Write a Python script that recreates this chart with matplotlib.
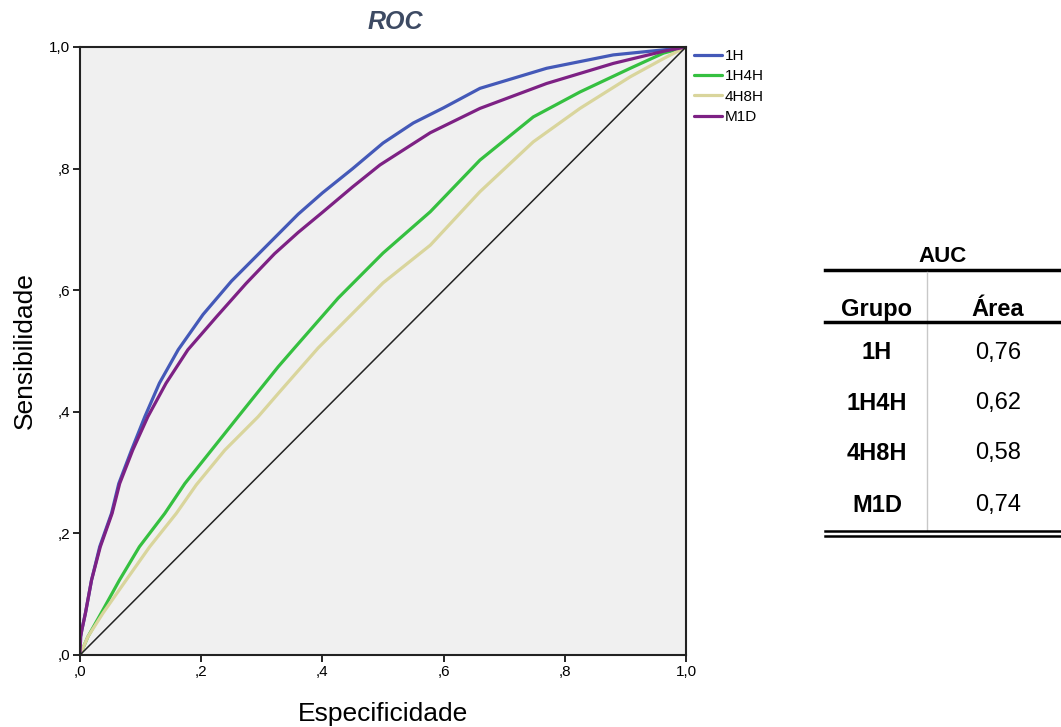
import matplotlib.pyplot as plt
from matplotlib.lines import Line2D

plt.rcParams['font.family'] = ['Liberation Sans', 'DejaVu Sans']

# Curvas ROC (1 - especificidade, sensibilidade)
fpr_1h = [0, 0.001, 0.003, 0.009, 0.019, 0.0325, 0.052, 0.064, 0.085, 0.107, 0.131,
          0.162, 0.203, 0.25, 0.297, 0.327, 0.36, 0.40, 0.45, 0.50, 0.55, 0.60, 0.66,
          0.77, 0.88, 0.99, 1.0]
tpr_1h = [0, 0.03, 0.041, 0.069, 0.123, 0.178, 0.233, 0.282, 0.337, 0.392, 0.447,
          0.502, 0.56, 0.615, 0.662, 0.692, 0.725, 0.76, 0.80, 0.842, 0.875, 0.90, 0.932,
          0.965, 0.987, 0.998, 1.0]

fpr_m1d = [0, 0.001, 0.003, 0.009, 0.019, 0.0335, 0.053, 0.0655, 0.087, 0.112, 0.142,
           0.178, 0.225, 0.274, 0.321, 0.36, 0.40, 0.45, 0.495, 0.578, 0.66, 0.77,
           0.88, 0.963, 1.0]
tpr_m1d = [0, 0.03, 0.041, 0.069, 0.123, 0.178, 0.233, 0.282, 0.337, 0.392, 0.447,
           0.502, 0.556, 0.611, 0.66, 0.695, 0.728, 0.77, 0.806, 0.859, 0.899, 0.94,
           0.973, 0.993, 1.0]

fpr_1h4h = [0, 0.013, 0.035, 0.065, 0.098, 0.14, 0.173, 0.217, 0.261, 0.327, 0.354,
            0.426, 0.50, 0.578, 0.66, 0.748, 0.825, 0.908, 0.963, 1.0]
tpr_1h4h = [0, 0.03, 0.069, 0.123, 0.178, 0.233, 0.282, 0.337, 0.392, 0.474, 0.505,
            0.587, 0.661, 0.729, 0.814, 0.885, 0.926, 0.965, 0.99, 1.0]

fpr_4h8h = [0, 0.013, 0.038, 0.076, 0.115, 0.159, 0.192, 0.239, 0.294, 0.327, 0.393,
            0.442, 0.50, 0.578, 0.66, 0.748, 0.825, 0.908, 0.963, 1.0]
tpr_4h8h = [0, 0.03, 0.069, 0.123, 0.178, 0.233, 0.28, 0.337, 0.392, 0.43, 0.505,
            0.554, 0.612, 0.674, 0.762, 0.844, 0.899, 0.951, 0.981, 1.0]

# Tabela AUC
grupos = ['1H', '1H4H', '4H8H', 'M1D']
areas = ['0,76', '0,62', '0,58', '0,74']

ticks = [0, 0.2, 0.4, 0.6, 0.8, 1.0]
tick_labels = [',0', ',2', ',4', ',6', ',8', '1,0']

fig = plt.figure(figsize=(10.61, 7.27), dpi=100)
ax = fig.add_axes([80 / 1061, 72 / 727, 606 / 1061, 608 / 727])
ax.set_facecolor('#f0f0f0')

kw = dict(lw=2.3, solid_joinstyle='round', solid_capstyle='round')
ax.plot(fpr_1h, tpr_1h, color='#4459b8', label='1H', **kw)
ax.plot(fpr_1h4h, tpr_1h4h, color='#35c040', label='1H4H', **kw)
ax.plot(fpr_4h8h, tpr_4h8h, color='#d9d59c', label='4H8H', **kw)
ax.plot(fpr_m1d, tpr_m1d, color='#7d2184', label='M1D', **kw)
ax.plot([0, 1], [0, 1], color='#222222', lw=1.1)

ax.set_xlim(0, 1)
ax.set_ylim(0, 1)
ax.set_xticks(ticks)
ax.set_xticklabels(tick_labels)
ax.set_yticks(ticks)
ax.set_yticklabels(tick_labels)
ax.tick_params(direction='out', length=5, width=1.2, labelsize=11, pad=2)
for s in ax.spines.values():
    s.set_linewidth(1.5)
    s.set_color('#222222')

ax.set_xlabel('Especificidade', fontsize=19, labelpad=17)
ax.set_ylabel('Sensibilidade', fontsize=19, labelpad=9)

fig.text(395 / 1061, 1 - 22 / 727, 'ROC', fontsize=18, fontweight='bold',
         fontstyle='italic', color='#3d4a63', ha='center', va='center')

ax.legend(loc='upper left', bbox_to_anchor=(1.0, 1.009), frameon=False,
          fontsize=11, handlelength=1.85, handletextpad=0.2,
          labelspacing=0.41, borderaxespad=0.1)

# Tabela à direita
def fx(px):
    return px / 1061

def fy(py):
    return 1 - py / 727

fig.text(fx(943), fy(256), 'AUC', fontsize=16, fontweight='bold', ha='center', va='center')
fig.add_artist(Line2D([fx(825), fx(1061)], [fy(270), fy(270)], color='black', lw=2.5))
fig.add_artist(Line2D([fx(927), fx(927)], [fy(272), fy(530)], color='#c8c8c8', lw=1))
fig.text(fx(877), fy(310), 'Grupo', fontsize=17, fontweight='bold', ha='center', va='center')
fig.text(fx(998), fy(310), 'Área', fontsize=17, fontweight='bold', ha='center', va='center')
fig.add_artist(Line2D([fx(825), fx(1061)], [fy(322), fy(322)], color='black', lw=2.5))
row_y = [352.5, 403, 453, 505]
for g, a, yy in zip(grupos, areas, row_y):
    fig.text(fx(877), fy(yy), g, fontsize=17, fontweight='bold', ha='center', va='center')
    fig.text(fx(998), fy(yy), a, fontsize=17, ha='center', va='center')
fig.add_artist(Line2D([fx(825), fx(1061)], [fy(531), fy(531)], color='black', lw=1.8))
fig.add_artist(Line2D([fx(825), fx(1061)], [fy(535.5), fy(535.5)], color='black', lw=1.8))

fig.savefig('out.png', dpi=100)
